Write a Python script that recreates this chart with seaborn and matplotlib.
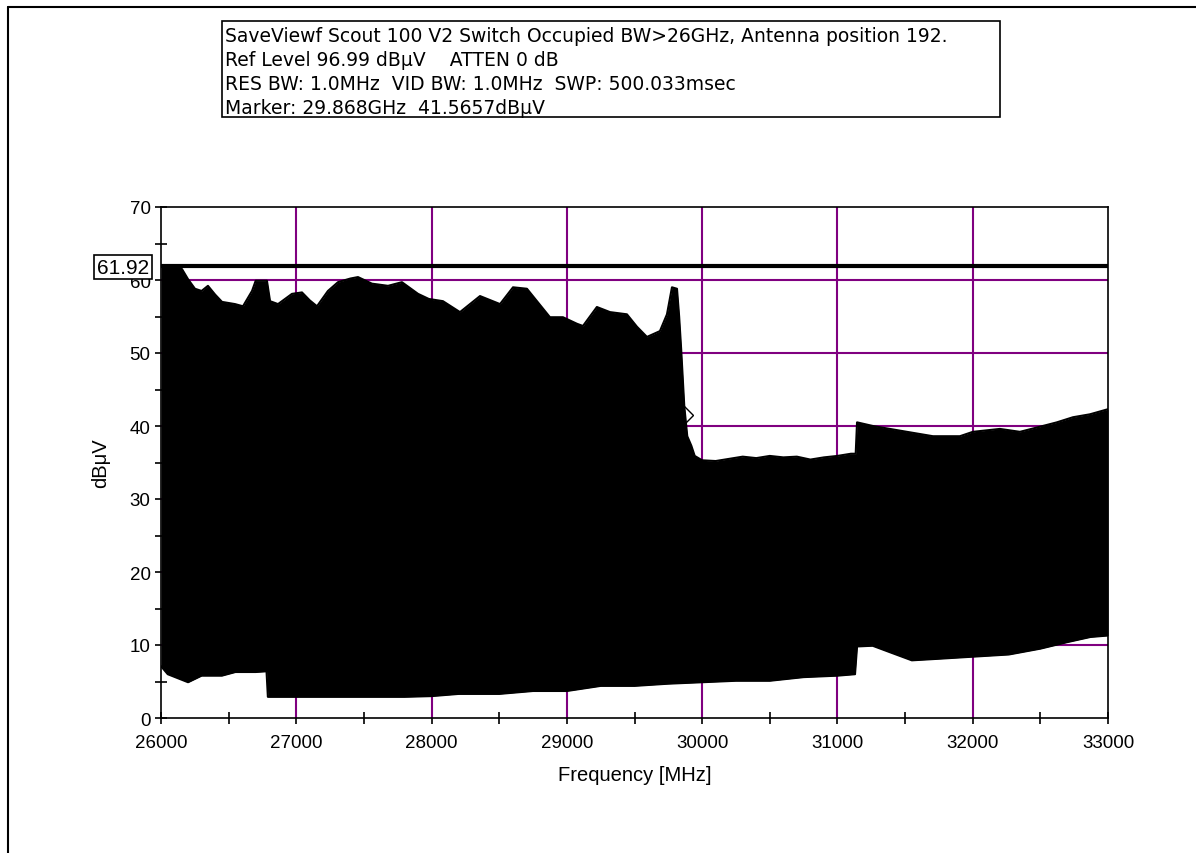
import numpy as np
import matplotlib
matplotlib.use('Agg')
import matplotlib.pyplot as plt
import seaborn as sns
from matplotlib.patches import Rectangle
from matplotlib.lines import Line2D

# Upper envelope of the sweep (MHz, dBuV)
upper_freq = [26000, 26050, 26100, 26155, 26200, 26251, 26300, 26347, 26400, 26451,
              26547, 26606, 26673, 26700, 26783, 26806, 26865, 26968, 27042, 27100,
              27153, 27234, 27308, 27400, 27456, 27559, 27678, 27781, 27900, 27980,
              28084, 28210, 28358, 28506, 28602, 28705, 28779, 28875, 28971, 29075,
              29119, 29222, 29319, 29444, 29518, 29592, 29688, 29740, 29777, 29814,
              29830, 29845, 29868, 29890, 29920, 29945, 30000, 30100, 30200, 30300,
              30400, 30500, 30600, 30700, 30800, 30900, 31000, 31100, 31135, 31145,
              31262, 31388, 31514, 31706, 31905, 32001, 32201, 32349, 32497, 32622,
              32741, 32866, 33000]
upper_db = [61.9, 61.9, 61.9, 61.5, 60.1, 58.8, 58.5, 59.2, 58.0, 57.0,
            56.7, 56.4, 58.5, 59.9, 59.9, 57.1, 56.7, 58.1, 58.3, 57.2,
            56.4, 58.5, 59.7, 60.2, 60.4, 59.5, 59.2, 59.7, 58.1, 57.4,
            57.1, 55.6, 57.8, 56.7, 59.0, 58.8, 57.1, 54.9, 54.9, 54.0,
            53.7, 56.3, 55.6, 55.3, 53.6, 52.2, 53.0, 55.3, 59.0, 58.8,
            55.0, 50.5, 42.7, 38.6, 37.3, 35.9, 35.3, 35.2, 35.5, 35.8,
            35.6, 35.9, 35.7, 35.8, 35.4, 35.7, 35.9, 36.2, 36.2, 40.5,
            40.0, 39.6, 39.2, 38.6, 38.6, 39.2, 39.6, 39.2, 39.9, 40.5,
            41.2, 41.6, 42.3]

# Lower envelope of the sweep
lower_freq = [26000, 26050, 26200, 26300, 26450, 26550, 26700, 26780, 26790, 27000,
              27300, 27500, 27800, 28000, 28200, 28500, 28750, 29000, 29250, 29500,
              29750, 30000, 30250, 30500, 30750, 31000, 31130, 31145, 31260, 31390,
              31550, 31735, 32000, 32267, 32500, 32700, 32870, 33000]
lower_db = [7.1, 6.0, 4.9, 5.8, 5.8, 6.3, 6.3, 6.4, 2.9, 2.9,
            2.9, 2.9, 2.9, 3.0, 3.3, 3.3, 3.7, 3.7, 4.4, 4.4,
            4.7, 4.9, 5.1, 5.1, 5.6, 5.8, 6.0, 9.8, 9.9, 9.0,
            7.9, 8.1, 8.4, 8.7, 9.5, 10.4, 11.1, 11.3]

ref_level = 61.92
marker_freq = 29868
marker_db = 41.5657

header_lines = [
    'SaveViewf Scout 100 V2 Switch Occupied BW>26GHz, Antenna position 192.',
    'Ref Level 96.99 dB\u03bcV    ATTEN 0 dB',
    'RES BW: 1.0MHz  VID BW: 1.0MHz  SWP: 500.033msec',
    'Marker: 29.868GHz  41.5657dB\u03bcV',
]

sns.set_style('white')
plt.rcParams['font.family'] = ['Liberation Sans', 'DejaVu Sans']
plt.rcParams['text.color'] = 'black'
plt.rcParams['axes.labelcolor'] = 'black'

fig = plt.figure(figsize=(11.96, 8.54), dpi=100)
ax = fig.add_axes([161 / 1196, 1 - 719 / 854, (1108 - 161) / 1196, (719 - 208) / 854])

purple = '#800080'
for gx in range(27000, 33000, 1000):
    ax.axvline(gx, color=purple, lw=1.5, zorder=1)
for gy in range(10, 70, 10):
    ax.axhline(gy, color=purple, lw=1.5, zorder=1)

# common frequency grid so the band can be filled between both envelopes
freq = np.union1d(upper_freq, lower_freq)
up = np.interp(freq, upper_freq, upper_db)
lo = np.interp(freq, lower_freq, lower_db)
ax.fill_between(freq, lo, up, color='black', lw=0, zorder=3)
sns.lineplot(x=upper_freq, y=upper_db, color='black', lw=1.5, ax=ax, zorder=3)
sns.lineplot(x=lower_freq, y=lower_db, color='black', lw=1.5, ax=ax, zorder=3)

ax.axhline(ref_level, color='black', lw=3, zorder=4)
ax.plot([marker_freq], [marker_db], marker='D', ms=9, mfc='white', mec='black',
        mew=1, ls='none', zorder=2)

ax.set_xlim(26000, 33000)
ax.set_ylim(0, 70)
ax.set_xticks(range(26000, 33001, 1000))
ax.set_xticks(range(26500, 33000, 1000), minor=True)
ax.set_yticks(range(0, 71, 10))
ax.set_yticks(range(5, 70, 10), minor=True)
ax.tick_params(axis='both', which='both', direction='inout', length=9, width=1.2,
               labelsize=13.5, colors='black', bottom=True, left=True)
ax.tick_params(axis='x', pad=7)
ax.tick_params(axis='y', pad=3)
for s in ax.spines.values():
    s.set_color('black')
    s.set_linewidth(1.2)
    s.set_zorder(5)

ax.set_xlabel('Frequency [MHz]', fontsize=14.5, labelpad=10)
ax.set_ylabel('dB\u03bcV', fontsize=14.5, labelpad=14)

# boxed reference value sitting on the left axis
fig.text(123 / 1196, 1 - 268 / 854, '61.92', fontsize=15, ha='center', va='center',
         zorder=10, bbox=dict(boxstyle='square,pad=0.12', fc='white', ec='black', lw=1.2))

# header box
fig.patches.append(Rectangle((222 / 1196, 1 - 118 / 854), (1000 - 222) / 1196, 96 / 854,
                             transform=fig.transFigure, fill=False, ec='black', lw=1.2))
for i, line in enumerate(header_lines):
    fig.text(225 / 1196, 1 - (36 + 24.3 * i) / 854, line, fontsize=13.5,
             family=['DejaVu Sans'], ha='left', va='center')

# window frame of the capture
fig.lines.append(Line2D([8 / 1196, 8 / 1196], [0, 1 - 8 / 854], transform=fig.transFigure,
                        color='black', lw=1.5))
fig.lines.append(Line2D([8 / 1196, 1], [1 - 8 / 854, 1 - 8 / 854], transform=fig.transFigure,
                        color='black', lw=1.5))

fig.savefig('out.png', dpi=100)
